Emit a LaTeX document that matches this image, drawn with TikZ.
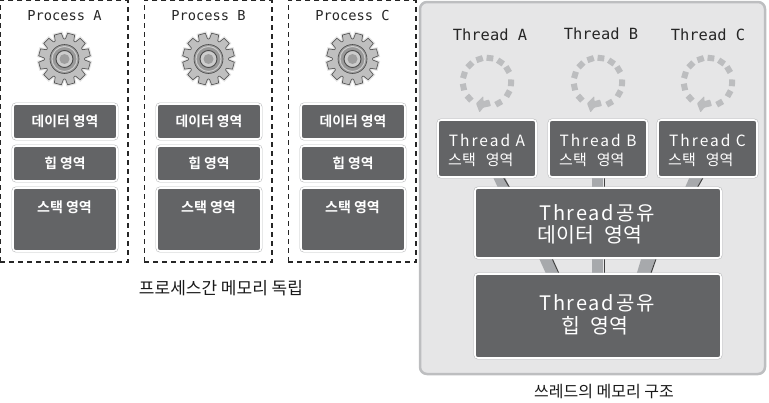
\documentclass[tikz,border=0pt]{standalone}
\usepackage{fontspec}
\setmainfont{Noto Sans CJK KR}
\newfontfamily\krb{Noto Sans CJK KR Bold}
\newfontfamily\mono{DejaVu Sans Mono}
\newfontfamily\wide[LetterSpace=9]{Noto Sans CJK KR}
\newfontfamily\wider[LetterSpace=13]{Noto Sans CJK KR}
\usetikzlibrary{calc}
\definecolor{boxc}{HTML}{636466}
\definecolor{panel}{HTML}{E6E6E7}
\definecolor{panelb}{HTML}{BDBEC0}
\definecolor{bandc}{HTML}{A7A9AC}
\definecolor{dashc}{HTML}{BCBDBF}
\pgfdeclarelayer{panellayer}
\pgfdeclarelayer{bandlayer}
\pgfsetlayers{panellayer,bandlayer,main}
\tikzset{
  membox/.style={rectangle,rounded corners=3pt,draw=white,line width=1.6pt,fill=boxc,
    preaction={draw=panelb,line width=2.8pt},inner sep=0pt,outer sep=0pt,text=white},
  procbox/.style={rectangle,draw=black!85,dash pattern=on 5pt off 4pt,line width=1.3pt,fill=white,inner sep=0pt,outer sep=0pt},
  proctitle/.style={font=\mono\fontsize{13.7}{15}\selectfont,text=black!85,inner sep=0pt},
  memlabel/.style={font=\krb\fontsize{14}{16}\selectfont,text=white,inner sep=0pt},
  threadtitle/.style={font=\mono\fontsize{15.4}{17}\selectfont,text=black!85,inner sep=0pt},
  caption/.style={font=\fontsize{16}{19}\selectfont,text=black!90,inner sep=0pt},
  bandedge/.style={draw=black!75,line width=1pt},
}
% name, x1, y1, x2, y2, text
\newcommand{\placebox}[7][membox]{%
  \pgfmathsetmacro{\bw}{(#5)-(#3)}\pgfmathsetmacro{\bh}{(#6)-(#4)}%
  \node[#1,minimum width=\bw pt,minimum height=\bh pt,anchor=north west,align=center] (#2) at (#3,#4) {#7};}
\newcommand{\gear}[2]{% cx, cy
  \begin{scope}[shift={(#1,#2)}]
    \filldraw[draw=black!65,line width=.7pt,fill=black!25,line join=round,
      preaction={draw=black!10,line width=3pt}]
      (0:20)
      \foreach \a in {0,30,...,330}{
        -- (\a+3:20.5) -- (\a+7:26) -- (\a+23:26) -- (\a+27:20.5) -- (\a+30:20)
      } -- cycle;
    \draw[draw=black!70,fill=black!40,line width=.6pt] (0,0) circle (14.5);
    \draw[draw=black!20,line width=1pt] (0,0) circle (12.5);
    \draw[draw=black!70,fill=black!20,line width=.9pt] (0,0) circle (8.5);
    \fill[black!38] (0,0) circle (5);
  \end{scope}}
\newcommand{\ring}[2]{% cx, cy
  \begin{scope}[shift={(#1,#2)}]
    \foreach \a in {-108,-83,-56,-31,2,29,61,138,168,197,225}{
      \draw[dashc,line width=6pt] (\a-8:24.3) -- (\a+8:24.3);
    }
    \fill[dashc,rounded corners=.8pt] (-3.7,14) -- (-11,21.3) -- (-7.5,30.5) -- (-3.7,25.7) -- (4,24) -- (2,17.5) -- (-3.7,19.2) -- cycle;
  \end{scope}}
\begin{document}
\begin{tikzpicture}[x=1pt,y=-1pt]
\useasboundingbox (0,0) rectangle (769,402);

% Processes
\foreach \nm/\dx/\lab in {a/0/A,b/144/B,c/288/C}{
  \placebox[procbox]{p\nm}{\dx+0.3}{0.3}{\dx+128}{262}{}
  \node[proctitle] (pt\nm) at (\dx+64.5,16) {Process \lab};
  \gear{\dx+64.5}{59}
  \placebox{d\nm}{\dx+13}{104}{\dx+117}{139}{\krb\fontsize{13.8}{16}\selectfont 데이터 영역}
  \placebox{h\nm}{\dx+13}{146}{\dx+117}{181}{\krb\fontsize{13.8}{16}\selectfont 힙 영역}
  \placebox{s\nm}{\dx+13}{188}{\dx+117}{251}{}
  \node[memlabel] (sl\nm) at (\dx+64.5,207) {스택 영역};
}
\node[caption,font=\fontsize{17}{20}\selectfont] (cap1) at (221,288) {프로세스간 메모리 독립};

% Thread panel
\begin{pgfonlayer}{panellayer}
  \draw[fill=panel,draw=panelb,line width=2.5pt,rounded corners=7pt] (420,2) rectangle (765,374);
\end{pgfonlayer}

\foreach \nm/\tx/\ty/\rx/\lab in {a/490/35/487/A,b/601/34/598/B,c/708/35/708/C}{
  \node[threadtitle] (tt\nm) at (\tx,\ty) {Thread \lab};
  \ring{\rx}{82}
}

\newcommand{\stackbox}[4]{%
  \placebox{t#1}{#2}{120}{#3}{177}{}
  \node[anchor=center,text=white,inner sep=0pt,font=\wider\fontsize{15.5}{18}\selectfont] (tl#1) at ($(t#1.north)+(0,20)$) {Thread #4};
  \node[anchor=west,text=white,inner sep=0pt,font=\fontsize{15}{18}\selectfont] (tk#1) at ($(t#1.north west)+(10,40)$) {스택\hspace{10pt}영역};
}
\stackbox{a}{438}{536}{A}
\stackbox{b}{549}{647}{B}
\stackbox{c}{658}{757}{C}

\placebox{sd}{475}{188}{721}{258}{}
\node[text=white,inner sep=0pt,font=\wide\fontsize{20}{24}\selectfont] (sdl1) at ($(sd.north)+(-1,25)$) {Thread공유};
\node[text=white,inner sep=0pt,font=\fontsize{20.5}{24}\selectfont] (sdl2) at ($(sd.north)+(-8,47)$) {데이터\hspace{10pt}영역};
\placebox{sh}{475}{274}{721}{358}{}
\node[text=white,inner sep=0pt,font=\wide\fontsize{20}{24}\selectfont] (shl1) at ($(sh.north)+(-1,29)$) {Thread공유};
\node[text=white,inner sep=0pt,font=\fontsize{20.5}{24}\selectfont] (shl2) at ($(sh.north)+(-3,52)$) {힙\hspace{10pt}영역};

% Bands between thread boxes
\begin{pgfonlayer}{bandlayer}
  \fill[bandc] ($(ta.south west)+(54,-2)$) -- ($(ta.south west)+(66,-2)$) -- ($(sd.north west)+(36,2)$) -- ($(sd.north west)+(24,2)$) -- cycle;
  \draw[bandedge] ($(ta.south west)+(64,-2)$) -- ($(sd.north west)+(36,2)$);
  \fill[bandc] ($(tb.south)+(-6,-2)$) rectangle ($(sd.north)+(5,2)$);
  \draw[bandedge] ($(tb.south)+(6,-2)$) -- ($(sd.north)+(6,2)$);
  \fill[bandc] ($(tc.south)+(-17,2)$) ++(0,-4) -- ++(13,0) -- ($(sd.north east)+(-25,2)$) -- ++(-12,0) -- cycle;
  \draw[bandedge] ($(tc.south)+(-3,-2)$) -- ($(sd.north east)+(-25,2)$);

  \fill[bandc] ($(sd.south west)+(63,-2)$) -- ($(sd.south west)+(76,-2)$) -- ($(sh.north west)+(84,2)$) -- ($(sh.north west)+(72,2)$) -- cycle;
  \draw[bandedge] ($(sd.south west)+(76,-2)$) -- ($(sh.north west)+(85,2)$);
  \fill[bandc] ($(sd.south)+(-6,-2)$) rectangle ($(sh.north)+(5,2)$);
  \draw[bandedge] ($(sd.south)+(6,-2)$) -- ($(sh.north)+(6,2)$);
  \fill[bandc] ($(sd.south east)+(-79,-2)$) -- ($(sd.south east)+(-65,-2)$) -- ($(sh.north east)+(-71,2)$) -- ($(sh.north east)+(-85,2)$) -- cycle;
  \draw[bandedge] ($(sd.south east)+(-64,-2)$) -- ($(sh.north east)+(-71,2)$);
\end{pgfonlayer}

\node[caption] (cap2) at (604,392) {쓰레드의 메모리 구조};
\end{tikzpicture}
\end{document}
